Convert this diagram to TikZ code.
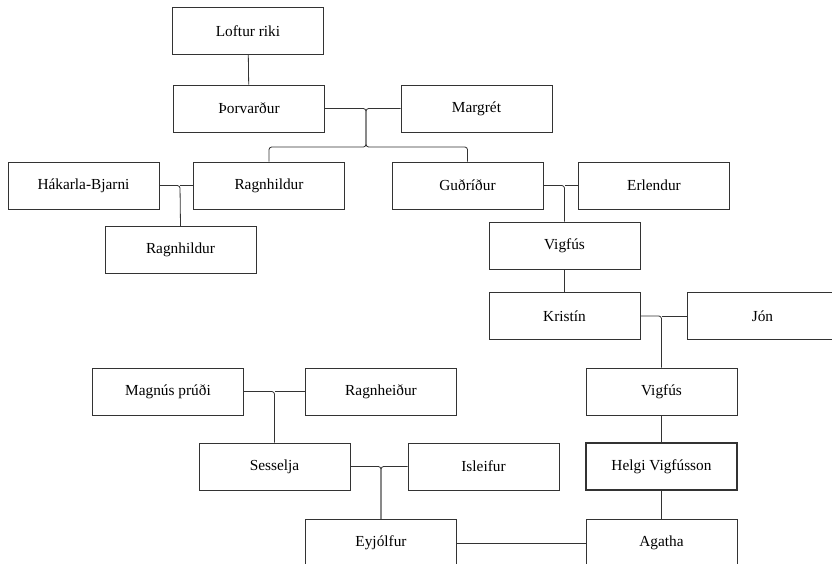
\documentclass[tikz,border=0pt]{standalone}
\usepackage{fontspec}
\setmainfont{Liberation Serif}
\begin{document}
\begin{tikzpicture}[x=0.75pt,y=-0.75pt,
    person/.style={draw=black!80,line width=0.6pt,fill=white,inner sep=0pt,
      minimum width=113.25pt,minimum height=35.25pt,font=\fontsize{11.5}{13}\selectfont},
    self/.style={person,line width=2pt},
    link/.style={draw=black!80,line width=0.6pt,rounded corners=2pt}]
    \path[use as bounding box,clip] (0,0) rectangle (832,564);
    % generations from the top
    \node[person] (loftur) at (248,31) {Loftur riki};
    \node[person] (thorv) at (249,108.5) {Þorvarður};
    \node[person] (margret) at (476.5,108.5) {Margrét};
    \node[person] (hakarla) at (83.5,185.5) {Hákarla-Bjarni};
    \node[person] (ragnh) at (269,185.5) {Ragnhildur};
    \node[person] (gudrid) at (467.5,185.5) {Guðríður};
    \node[person] (erlend) at (654,185.5) {Erlendur};
    \node[person] (ragnhb) at (180.5,250) {Ragnhildur};
    \node[person] (vigfus) at (564.5,245.5) {Vigfús};
    \node[person] (kristin) at (564.5,316) {Kristín};
    \node[person] (jon) at (762.5,316) {Jón};
    \node[person] (magnus) at (168,391.5) {Magnús prúði};
    \node[person] (ragnhd) at (381,391.5) {Ragnheiður};
    \node[person] (vigfusb) at (661.5,391.5) {Vigfús};
    \node[person] (sesselja) at (274.5,466.5) {Sesselja};
    \node[person] (isleif) at (483.5,466.5) {Isleifur};
    \node[self] (helgi) at (661.5,466.5) {Helgi Vigfússon};
    \node[person] (eyjolf) at (381,543) {Eyjólfur};
    \node[person] (agatha) at (661.5,543) {Agatha};
    % junctions
    \coordinate (ja) at (366,108.5);
    \coordinate (jb) at (366,147);
    \coordinate (jc) at (180,185.5);
    \coordinate (jd) at (564.5,185.5);
    \coordinate (je) at (661.5,316);
    \coordinate (jf) at (274.5,391.5);
    \coordinate (jg) at (381,466.5);
    % connectors
    \draw[link] (loftur) -- (thorv);
    \draw[link] (thorv.east) -- (ja) -- (jb) -- (ragnh.north |- jb) -- (ragnh.north);
    \draw[link] (margret.west) -- (ja) -- (jb) -- (gudrid.north |- jb) -- (gudrid.north);
    \draw[link] (jc) -- (ragnh.west);
    \draw[link] (hakarla.east) -- (jc) -- (ragnhb.north);
    \draw[link] (erlend.west) -- (jd);
    \draw[link] (gudrid.east) -- (jd) -- (vigfus.north);
    \draw[link] (vigfus) -- (kristin);
    \draw[link] (jon.west) -- (je);
    \draw[link] (kristin.east) -- (je) -- (vigfusb.north);
    \draw[link] (ragnhd.west) -- (jf);
    \draw[link] (magnus.east) -- (jf) -- (sesselja.north);
    \draw[link] (sesselja.east) -- (jg) -- (eyjolf.north);
    \draw[link] (isleif.west) -- (jg) -- (eyjolf.north);
    \draw[link] (vigfusb) -- (helgi);
    \draw[link] (helgi) -- (agatha);
    \draw[link] (eyjolf) -- (agatha);
\end{tikzpicture}
\end{document}
